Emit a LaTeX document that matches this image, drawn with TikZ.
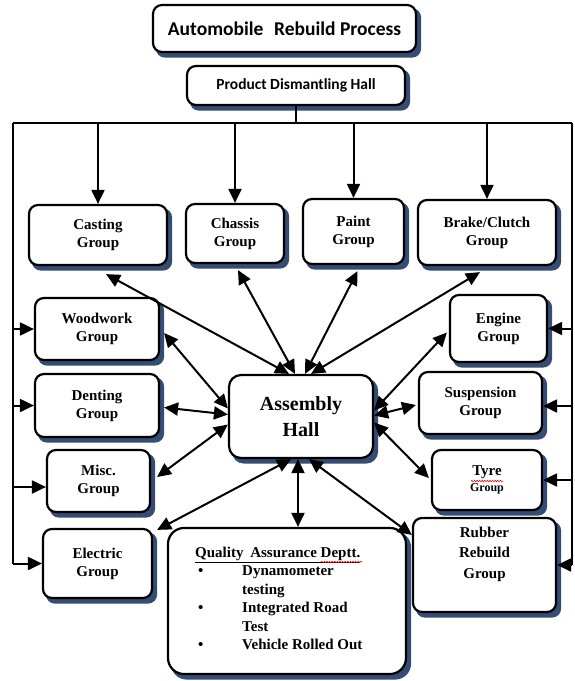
\documentclass[tikz,border=0pt]{standalone}
\usepackage{fontspec}
\setmainfont{Liberation Serif}
\newfontfamily\calib{Carlito}
\usetikzlibrary{arrows.meta,backgrounds,decorations.pathmorphing}
\definecolor{shadowblue}{RGB}{31,56,100}
\begin{document}
\begin{tikzpicture}[x=1pt,y=-1pt,
  box/.style={draw=black, line width=2.2pt, rounded corners=9pt, fill=white, align=center, inner sep=2pt},
  grp/.style={box, font=\fontsize{15}{18}\selectfont\bfseries},
  link/.style={line width=2pt, {Triangle[length=14pt,width=13pt]}-{Triangle[length=14pt,width=13pt]}},
  feed/.style={line width=2pt, -{Triangle[length=14pt,width=13pt]}},
  busline/.style={line width=2pt},
  shade/.style={fill=shadowblue, fill opacity=0.9},
  squig/.style={red, line width=0.6pt, decorate, decoration={snake, amplitude=0.7pt, segment length=2.6pt}}]
\useasboundingbox (0,0) rectangle (574,681);

% headers
\node[box, font=\calib\fontsize{19.5}{22}\selectfont\bfseries, minimum width=263pt, minimum height=47pt] (title) at (284.5,28.5) {Automobile\hspace{0.55em}Rebuild Process};
\node[box, font=\calib\fontsize{15.5}{18}\selectfont\bfseries, minimum width=218pt, minimum height=39pt] (pdh) at (296,85.5) {Product Dismantling Hall};

% groups
\node[grp, minimum width=138pt, minimum height=60pt] (cast) at (98,235) {Casting\\Group};
\node[grp, minimum width=98pt, minimum height=59pt] (chas) at (235,233.5) {Chassis\\Group};
\node[grp, minimum width=101pt, minimum height=65pt] (paint) at (353.5,231.5) {Paint\\Group};
\node[grp, minimum width=138pt, minimum height=65pt] (brake) at (487,232.5) {Brake/Clutch\\Group};
\node[grp, minimum width=124pt, minimum height=62pt] (wood) at (97,329) {Woodwork\\Group};
\node[grp, minimum width=97pt, minimum height=67pt] (engine) at (498.5,328.5) {Engine\\Group};
\node[grp, minimum width=124pt, minimum height=63pt] (dent) at (97,405.5) {Denting\\Group};
\node[grp, minimum width=123pt, minimum height=62pt] (susp) at (480.5,403) {Suspension\\Group};
\node[grp, minimum width=103pt, minimum height=62pt] (misc) at (98.5,481) {Misc.\\Group};
\node[grp, minimum width=110pt, minimum height=60pt] (tyre) at (487,480) {Tyre\\[-2pt]{\fontsize{12}{14}\selectfont Group}};
\node[grp, minimum width=109pt, minimum height=69pt] (elec) at (97.5,563.5) {Electric\\Group};
\node[grp, font=\fontsize{15}{20.5}\selectfont\bfseries, minimum width=143pt, minimum height=94pt] (rub) at (484.5,565) {Rubber\\Rebuild\\Group\\[4pt]};
\node[box, minimum width=238pt, minimum height=146pt, rounded corners=16pt] (qa) at (287,601) {};
\node[box, font=\fontsize{20}{26}\selectfont\bfseries, minimum width=144pt, minimum height=83pt, rounded corners=12pt] (asm) at (301,416.5) {Assembly\\Hall};

% shadows
\begin{scope}[on background layer]
\foreach \n/\r in {title/9,pdh/9,cast/9,chas/9,paint/9,brake/9,wood/9,engine/9,dent/9,susp/9,misc/9,tyre/9,elec/9,rub/9,qa/16,asm/12}
  \fill[shade, rounded corners=\r pt] ([shift={(4pt,-4.5pt)}]\n.north west) rectangle ([shift={(4pt,-4.5pt)}]\n.south east);
\end{scope}

% QA text
\node[anchor=north west, inner sep=0pt, font=\fontsize{15}{18.5}\selectfont\bfseries, align=left] (qatext) at (195,544)
  {\begin{tabular}{@{}p{47pt}@{}l@{}}
   \multicolumn{2}{@{}l@{}}{\underline{Quality\hspace{0.45em}Assurance Deptt.}}\\
   \hspace{3pt}\textbullet & Dynamometer\\
    & testing\\
   \hspace{3pt}\textbullet & Integrated Road\\
    & Test\\
   \hspace{3pt}\textbullet & Vehicle Rolled Out
   \end{tabular}};

% spell-check marks
\draw[squig] (471,481) -- (503,481);
\draw[squig] (321,562) -- (362,562);

% bus from dismantling hall
\coordinate (busL) at (13,123);
\coordinate (busR) at (572,123);
\draw[busline] (pdh.south) -- (pdh.south |- busL);
\draw[busline] (busL) -- (busR);
\draw[feed] (cast.north |- busL) -- (cast.north);
\draw[feed] (chas.north |- busL) -- (chas.north);
\draw[feed] (paint.north |- busL) -- (paint.north);
\draw[feed] (brake.north |- busL) -- (brake.north);

% left feed line
\coordinate (miscin) at ([yshift=-6pt]misc.west);
\draw[busline] (busL) -- (busL |- elec.west);
\draw[feed] (busL |- wood.west) -- (wood.west);
\draw[feed] (busL |- dent.west) -- (dent.west);
\draw[feed] (busL |- miscin) -- (miscin);
\draw[feed] (busL |- elec.west) -- (elec.west);

% right feed line
\coordinate (suspin) at ([yshift=-3pt]susp.east);
\draw[busline] (busR) -- (busR |- rub.east);
\draw[feed] (busR |- engine.east) -- (engine.east);
\draw[feed] (busR |- suspin) -- (suspin);
\draw[feed] (busR |- tyre.east) -- (tyre.east);
\draw[feed] (busR |- rub.east) -- (rub.east);

% links to assembly hall
\draw[link] ([xshift=8pt,yshift=-8pt]cast.south) -- ([xshift=-12pt]asm.north);
\draw[link] ([xshift=3pt,yshift=-6pt]chas.south) -- ([xshift=-6pt]asm.north);
\draw[link] ([xshift=4pt,yshift=-6pt]paint.south) -- ([xshift=4pt]asm.north);
\draw[link] ([xshift=-7pt,yshift=-6pt]brake.south) -- ([xshift=10pt]asm.north);
\draw[link] ([xshift=4pt,yshift=-4pt]wood.east) -- ([yshift=8pt]asm.west);
\draw[link] ([xshift=4pt,yshift=-2pt]dent.east) -- ([yshift=2pt]asm.west);
\draw[link] ([xshift=6pt,yshift=4pt]misc.east) -- ([yshift=-8pt]asm.west);
\draw[link] ([xshift=4pt,yshift=-2pt]elec.north east) -- ([xshift=-10pt]asm.south);
\coordinate (qatop) at ([xshift=-3pt]asm.south);
\draw[link] (qatop) -- (qatop |- qa.north);
\draw[link] ([yshift=-18pt]rub.north west) -- ([xshift=8pt]asm.south);
\draw[link] ([xshift=-2pt,yshift=-4pt]engine.west) -- ([yshift=6pt]asm.east);
\draw[link] ([xshift=-2pt,yshift=-2pt]susp.west) -- ([yshift=1pt]asm.east);
\draw[link] ([xshift=-2pt,yshift=2pt]tyre.west) -- ([yshift=-6pt]asm.east);
\end{tikzpicture}
\end{document}
